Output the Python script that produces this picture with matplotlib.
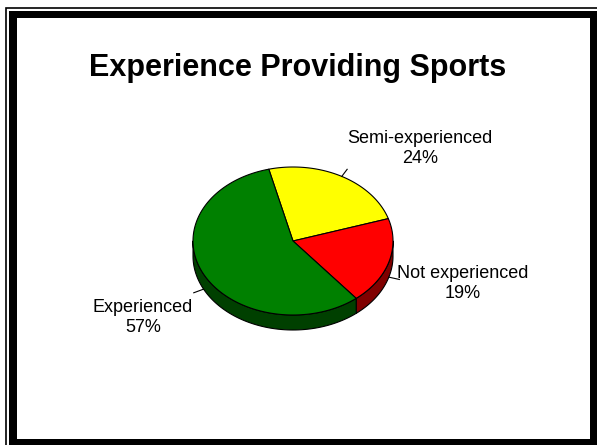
import numpy as np
import matplotlib.pyplot as plt
from matplotlib.patches import Polygon, Rectangle
from matplotlib.lines import Line2D

title = 'Experience Providing Sports'
categories = ['Semi-experienced', 'Not experienced', 'Experienced']
shares = [24, 19, 57]
top_colors = ['#FFFF00', '#FF0000', '#008000']
side_colors = ['#808000', '#800000', '#004000']

# pie layout (pixel units, y grows downward)
cx, cy = 293, 241
rx, ry = 100, 74
depth = 15
start_angle = 104
label_pos = [(420, 143), (463, 278), (143, 312)]
line_gap = 20

plt.rcParams['font.family'] = ['Liberation Sans', 'DejaVu Sans']

fig = plt.figure(figsize=(5.97, 4.45), dpi=100)
ax = fig.add_axes([0, 0, 1, 1])
ax.set_xlim(0, 597)
ax.set_ylim(445, 0)
ax.axis('off')


def rim(t, drop=0.0, r=1.0):
    t = np.radians(t)
    return cx + r * rx * np.cos(t), cy - r * ry * np.sin(t) + drop


# slices run clockwise from the start angle
bounds = start_angle - 360 * np.cumsum([0] + shares) / 100

# side walls, only the front half shows
for i in range(len(shares)):
    lo, hi = bounds[i + 1], bounds[i]
    for k in (-1, 0, 1):
        a, b = max(lo, 180 + 360 * k), min(hi, 360 + 360 * k)
        if b > a:
            t = np.linspace(a, b, 80)
            x, y = rim(t)
            xb, yb = rim(t, depth)
            pts = np.column_stack([np.r_[x, xb[::-1]], np.r_[y, yb[::-1]]])
            ax.add_patch(Polygon(pts, closed=True, fc=side_colors[i],
                                 ec='black', lw=0.8, joinstyle='round'))

# top faces
for i in range(len(shares)):
    lo, hi = bounds[i + 1], bounds[i]
    t = np.linspace(lo, hi, 150)
    x, y = rim(t)
    pts = np.column_stack([np.r_[cx, x], np.r_[cy, y]])
    ax.add_patch(Polygon(pts, closed=True, fc=top_colors[i],
                         ec='black', lw=0.8, joinstyle='round'))

# leader lines and labels
for i, (name, v) in enumerate(zip(categories, shares)):
    mid = (bounds[i] + bounds[i + 1]) / 2
    drop = depth if np.sin(np.radians(mid)) < 0 else 0
    x0, y0 = rim(mid, drop)
    x1, y1 = rim(mid, drop, r=1.11)
    ax.add_line(Line2D([x0, x1], [y0, y1], color='black', lw=0.8))
    lx, ly = label_pos[i]
    ax.text(lx, ly, name, ha='center', va='baseline', fontsize=13)
    ax.text(lx, ly + line_gap, f'{v}%', ha='center', va='baseline', fontsize=13)

ax.text(298, 76, title, ha='center', va='baseline', fontsize=22,
        fontweight='bold')

# frame: thin outer line and heavy border
ax.add_line(Line2D([5.8, 5.8, 600], [450, 8.2, 8.2], color='black', lw=1.2,
                   solid_joinstyle='miter'))
ax.add_patch(Rectangle((9, 11), 600, 450, fc='black', ec='none', zorder=0))
ax.add_patch(Rectangle((16.7, 18), 590 - 16.7, 439 - 18, fc='white', ec='none',
                       zorder=0.5))

fig.savefig('out.png', dpi=100, facecolor='white')
